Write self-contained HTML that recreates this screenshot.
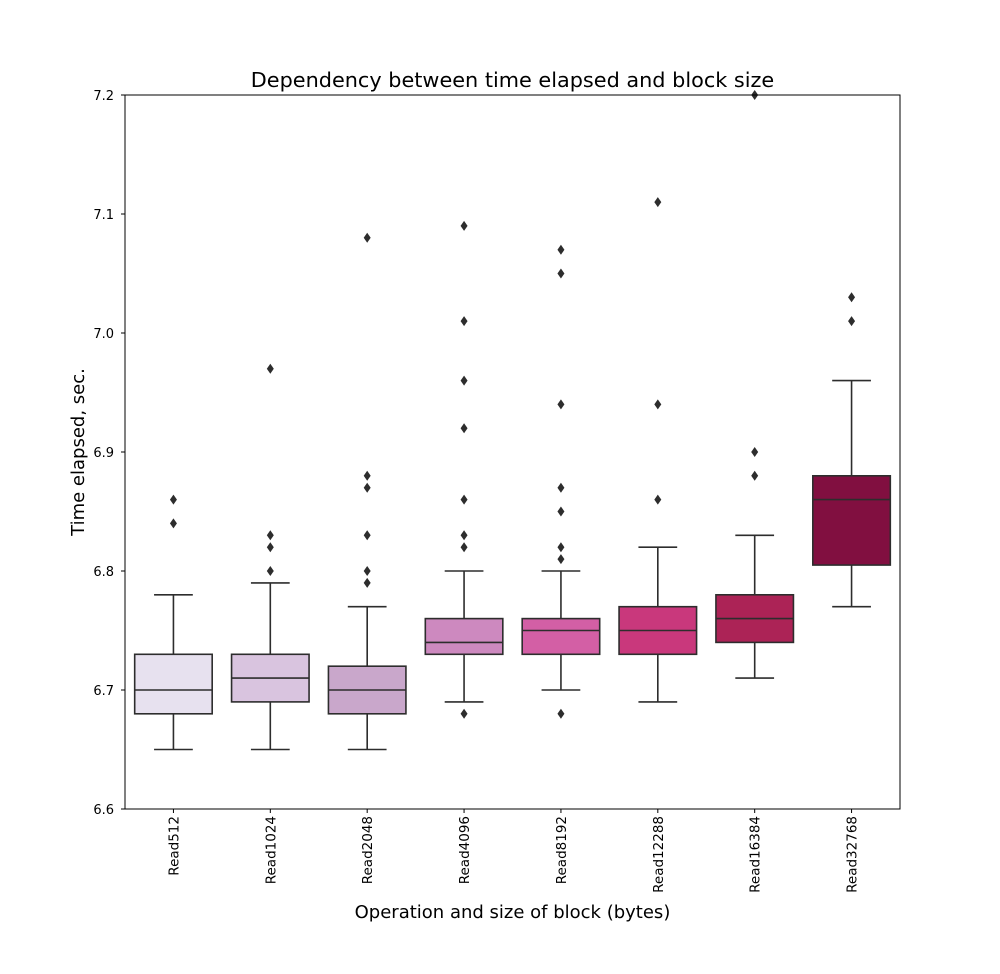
<!DOCTYPE html>
<html><head><meta charset="utf-8"><style>body{margin:0;background:#fff}svg{display:block;font-family:"DejaVu Sans","Liberation Sans",sans-serif}</style></head>
<body>
<svg id="c" width="1000" height="974"></svg>
<script>
const categories=["Read512","Read1024","Read2048","Read4096","Read8192","Read12288","Read16384","Read32768"];
const whiskerLow=[6.65,6.65,6.65,6.69,6.70,6.69,6.71,6.77];
const q1=[6.68,6.69,6.68,6.73,6.73,6.73,6.74,6.805];
const medians=[6.70,6.71,6.70,6.74,6.75,6.75,6.76,6.86];
const q3=[6.73,6.73,6.72,6.76,6.76,6.77,6.78,6.88];
const whiskerHigh=[6.78,6.79,6.77,6.80,6.80,6.82,6.83,6.96];
const fliers=[[6.84,6.86],[6.80,6.82,6.83,6.97],[6.79,6.80,6.83,6.87,6.88,7.08],[6.68,6.82,6.83,6.86,6.92,6.96,7.01,7.09],[6.68,6.81,6.82,6.85,6.87,6.94,7.05,7.07],[6.86,6.94,7.11],[6.88,6.90,7.20],[7.01,7.03]];
const yTicks=[6.6,6.7,6.8,6.9,7.0,7.1,7.2];
const colors=["#e7e1ef","#d9c4df","#c9a7cb","#cd89bf","#d35fa5","#c9387c","#ac2356","#810f40"];
const L=125,R=900,T=95,B=809,yMin=6.6,yMax=7.2;
const y=v=>B-(v-yMin)/(yMax-yMin)*(B-T);
const step=(R-L)/categories.length;
const x=i=>L+step*(i+0.5);
const svg=document.getElementById('c');const NS="http://www.w3.org/2000/svg";
function mk(t,a,p){const e=document.createElementNS(NS,t);for(const k in a)e.setAttribute(k,a[k]);(p||svg).appendChild(e);return e;}
const st="#2d2d2d";
yTicks.forEach(v=>{
 const g=mk('g',{});
 
 
 mk('line',{x1:L-4,x2:L,y1:y(v),y2:y(v),stroke:'#000'},g);
 const t=mk('text',{x:L-11,y:y(v)+5,'text-anchor':'end','font-size':13},g);t.textContent=v.toFixed(1);
});
categories.forEach((c,i)=>{
 const g=mk('g',{});
 
 
 const cx=x(i),w=step*0.8,cw=w*0.5;
 mk('line',{x1:cx,x2:cx,y1:y(whiskerLow[i]),y2:y(q1[i]),stroke:st,'stroke-width':1.6},g);
 mk('line',{x1:cx,x2:cx,y1:y(whiskerHigh[i]),y2:y(q3[i]),stroke:st,'stroke-width':1.6},g);
 mk('line',{x1:cx-cw/2,x2:cx+cw/2,y1:y(whiskerLow[i]),y2:y(whiskerLow[i]),stroke:st,'stroke-width':1.6},g);
 mk('line',{x1:cx-cw/2,x2:cx+cw/2,y1:y(whiskerHigh[i]),y2:y(whiskerHigh[i]),stroke:st,'stroke-width':1.6},g);
 mk('rect',{x:cx-w/2,y:y(q3[i]),width:w,height:y(q1[i])-y(q3[i]),fill:colors[i],stroke:st,'stroke-width':1.6},g);
 mk('line',{x1:cx-w/2,x2:cx+w/2,y1:y(medians[i]),y2:y(medians[i]),stroke:st,'stroke-width':1.6},g);
 fliers[i].forEach(f=>{const p=mk('path',{d:`M${cx} ${y(f)-5}L${cx+3.5} ${y(f)}L${cx} ${y(f)+5}L${cx-3.5} ${y(f)}Z`,fill:st},g);
  });
 mk('line',{x1:cx,x2:cx,y1:B,y2:B+4,stroke:'#000'},g);
 const t=mk('text',{transform:`translate(${cx+5},${B+7}) rotate(-90)`,'text-anchor':'end','font-size':13.5},g);t.textContent=c;
});
const f=mk('rect',{x:L,y:T,width:R-L,height:B-T,fill:'none',stroke:'#000','stroke-width':1});

let t=mk('text',{x:(L+R)/2,y:87,'text-anchor':'middle','font-size':20.8});t.textContent="Dependency between time elapsed and block size";

t=mk('text',{x:(L+R)/2,y:918,'text-anchor':'middle','font-size':18});t.textContent="Operation and size of block (bytes)";

t=mk('text',{transform:`translate(84,${(T+B)/2}) rotate(-90)`,'text-anchor':'middle','font-size':18});t.textContent="Time elapsed, sec.";

</script>
</body></html>
